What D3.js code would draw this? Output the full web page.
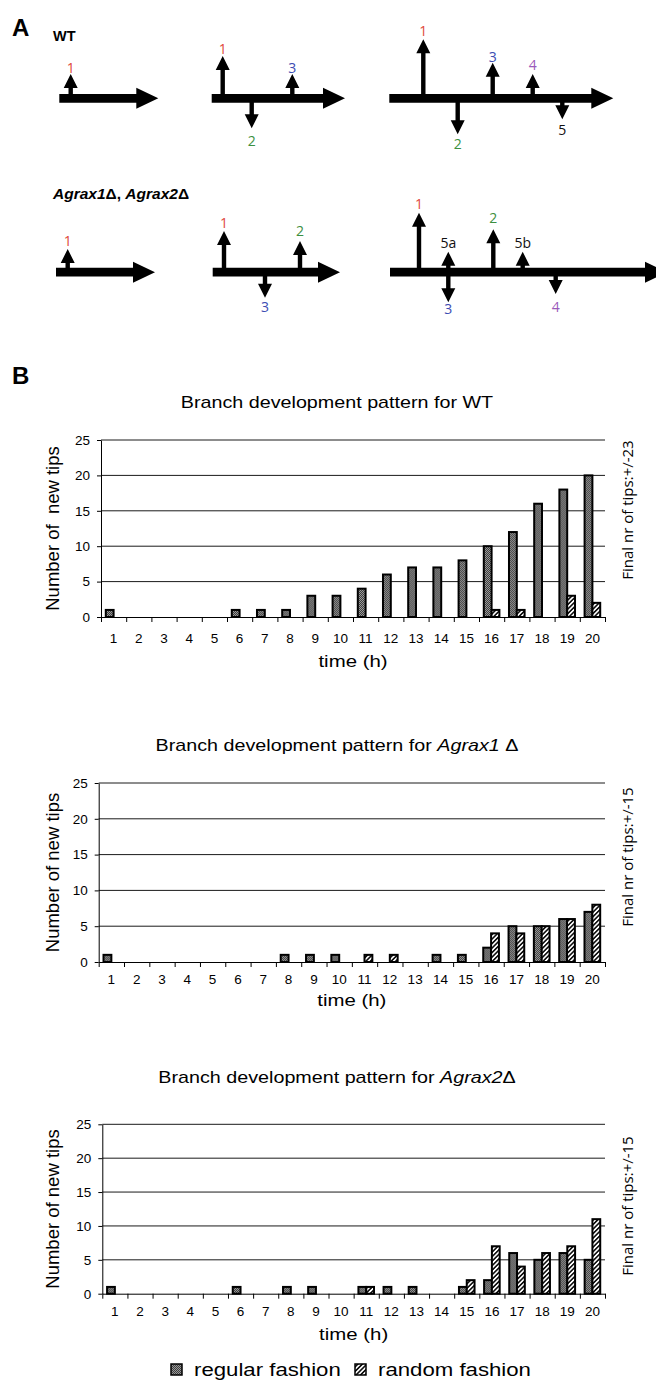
<!DOCTYPE html>
<html><head><meta charset="utf-8">
<script src="https://cdn.jsdelivr.net/npm/d3@7"></script>
<style>body{margin:0;background:#fff} svg{display:block}</style>
</head><body>
<svg id="c" width="656" height="1387"></svg>
<script>
// ---------------- DATA ----------------
const hours = ["1","2","3","4","5","6","7","8","9","10","11","12","13","14","15","16","17","18","19","20"];
const yTicks = [0,5,10,15,20,25];
const seriesNames = ["regular fashion","random fashion"];

const wtRegular = [1,0,0,0,0,1,1,1,3,3,4,6,7,7,8,10,12,16,18,20];
const wtRandom  = [0,0,0,0,0,0,0,0,0,0,0,0,0,0,0,1,1,0,3,2];
const a1Regular = [1,0,0,0,0,0,0,1,1,1,0,0,0,1,1,2,5,5,6,7];
const a1Random  = [0,0,0,0,0,0,0,0,0,0,1,1,0,0,0,4,4,5,6,8];
const a2Regular = [1,0,0,0,0,1,0,1,1,0,1,1,1,0,1,2,6,5,6,5];
const a2Random  = [0,0,0,0,0,0,0,0,0,0,1,0,0,0,2,7,4,6,7,11];

const strainNames = ["WT","Agrax1","Agrax2"];
const finalTips = ["Final nr of tips:+/-23","Final nr of tips:+/-15","Final nr of tips:+/-15"];
const yTitles = ["Number of  new tips","Number of new tips","Number of new tips"];

// ---------------- LAYOUT ----------------
const ARIAL = "Arial, 'Liberation Sans', sans-serif";
const OPEN = "'Open Sans', 'DejaVu Sans', sans-serif";
const svg = d3.select("#c");
const defs = svg.append("defs");

const pReg = defs.append("pattern").attr("id","pReg").attr("width",2).attr("height",2).attr("patternUnits","userSpaceOnUse");
pReg.append("rect").attr("width",2).attr("height",2).attr("fill","#999999");
pReg.append("rect").attr("width",1).attr("height",1).attr("fill","#3c3c3c");
pReg.append("rect").attr("x",1).attr("y",1).attr("width",1).attr("height",1).attr("fill","#3c3c3c");

const pRnd = defs.append("pattern").attr("id","pRnd").attr("width",3.2).attr("height",3.2)
  .attr("patternUnits","userSpaceOnUse").attr("patternTransform","rotate(45)");
pRnd.append("rect").attr("width",3.2).attr("height",3.2).attr("fill","#fff");
pRnd.append("line").attr("x1",1.6).attr("y1",0).attr("x2",1.6).attr("y2",3.2).attr("stroke","#000").attr("stroke-width",1.5);

const fills = {"regular fashion":"url(#pReg)","random fashion":"url(#pRnd)"};

function stext(parent, x, y, sx, str, size, opts = {}) {
  const t = parent.append("text")
    .attr("transform", `translate(${x},${y}) scale(${sx},1)`)
    .attr("font-family", opts.family || ARIAL)
    .attr("font-size", size)
    .attr("font-weight", opts.weight || "normal")
    .attr("font-style", opts.style || "normal")
    .attr("fill", opts.fill || "#000")
    .attr("text-anchor", opts.anchor || "start");
  if (str !== null) t.text(str);
  return t;
}

// ---------------- PANEL A ----------------
const gA = svg.append("g");
stext(gA, 12, 36, 1, "A", 24, {weight:"bold"});
stext(gA, 53, 41, 1, "WT", 14.5, {weight:"bold"});
const mt = stext(gA, 53, 199, 1, null, 15.5, {weight:"bold"});
mt.append("tspan").attr("font-style","italic").text("Agrax1");
mt.append("tspan").text("Δ, ");
mt.append("tspan").attr("font-style","italic").text("Agrax2");
mt.append("tspan").text("Δ");

const RED = "#e0483c", GREEN = "#3c8f40", BLUE = "#3d4db3", PURPLE = "#9a5bbb", BLACK = "#111";
const diagrams = [
  {cy:98.3, x0:59.3, tip:158.3, br:[{x:70.7,t:74,ly:73,l:"1",c:RED}]},
  {cy:98.3, x0:211.7, tip:345, br:[{x:222.7,t:56,ly:54,l:"1",c:RED},{x:251.7,t:128.3,ly:146,l:"2",c:GREEN},{x:292.3,t:74,ly:73,l:"3",c:BLUE}]},
  {cy:98.3, x0:389.3, tip:613.3, br:[{x:423.3,t:39.3,ly:36,l:"1",c:RED},{x:457.7,t:134.3,ly:149,l:"2",c:GREEN},{x:492.7,t:62.7,ly:61.7,l:"3",c:BLUE},{x:532.7,t:74,ly:70,l:"4",c:PURPLE},{x:562.3,t:119.3,ly:135,l:"5",c:BLACK}]},
  {cy:272.2, x0:56, tip:155, br:[{x:67.7,t:249,ly:246,l:"1",c:RED}]},
  {cy:272.2, x0:212.7, tip:340, br:[{x:224,t:231,ly:228,l:"1",c:RED},{x:265,t:297.7,ly:311.7,l:"3",c:BLUE},{x:300,t:241,ly:236,l:"2",c:GREEN}]},
  {cy:272.2, x0:390, tip:667, br:[{x:419,t:212.7,ly:209,l:"1",c:RED},{x:448.3,t:251.7,ly:248,l:"5a",c:BLACK},{x:448.3,t:302.3,ly:314,l:"3",c:BLUE},{x:493.3,t:229.3,ly:223,l:"2",c:GREEN},{x:522.7,t:251.7,ly:248,l:"5b",c:BLACK},{x:555.7,t:294,ly:311.7,l:"4",c:PURPLE}]}
];
diagrams.forEach(d => {
  const ht = 4.4, hh = 10.5, hl = 22, cy = d.cy;
  const p = d3.path();
  p.moveTo(d.x0, cy-ht); p.lineTo(d.tip-hl, cy-ht); p.lineTo(d.tip-hl, cy-hh); p.lineTo(d.tip, cy);
  p.lineTo(d.tip-hl, cy+hh); p.lineTo(d.tip-hl, cy+ht); p.lineTo(d.x0, cy+ht); p.closePath();
  gA.append("path").attr("d", p.toString()).attr("fill","#000");
  d.br.forEach(b => {
    const up = b.t < cy, s = up ? 1 : -1, base = b.t + s*14, w = 2.2, hw = 7;
    const q = d3.path();
    q.moveTo(b.x-w, cy); q.lineTo(b.x-w, base); q.lineTo(b.x-hw, base); q.lineTo(b.x, b.t);
    q.lineTo(b.x+hw, base); q.lineTo(b.x+w, base); q.lineTo(b.x+w, cy); q.closePath();
    gA.append("path").attr("d", q.toString()).attr("fill","#000");
    stext(gA, b.x, b.ly, 1, b.l, 14, {family:OPEN, fill:b.c, anchor:"middle"});
  });
});

// ---------------- PANEL B ----------------
stext(svg, 12, 384, 1, "B", 24, {weight:"bold"});

const layouts = [
  {left:101, right:605, top:440, bottom:617, titleY:408, tickY:643, xTitleY:667, finalY:510},
  {left:98.7, right:605, top:783, bottom:962, titleY:751, tickY:984, xTitleY:1006, finalY:857},
  {left:102.3, right:605, top:1124.3, bottom:1293.7, titleY:1083, tickY:1316, xTitleY:1340, finalY:1206}
];
const chartData = [
  {reg: wtRegular, rnd: wtRandom},
  {reg: a1Regular, rnd: a1Random},
  {reg: a2Regular, rnd: a2Random}
];

layouts.forEach((L, ci) => {
  const g = svg.append("g");
  const x = d3.scaleBand().domain(hours).range([L.left, L.right]).padding(0);
  const xs = d3.scaleBand().domain(seriesNames).range([x.bandwidth()*0.19, x.bandwidth()*0.81]).padding(0);
  const xl = d3.scaleLinear().domain([0, hours.length]).range([L.left, L.right]);
  const y = d3.scaleLinear().domain([0, 25]).range([L.bottom, L.top]);

  g.append("g").selectAll("line").data(yTicks.filter(v => v > 0)).join("line")
    .attr("x1", L.left).attr("x2", L.right).attr("y1", d => y(d)).attr("y2", d => y(d))
    .attr("stroke", "#1a1a1a").attr("stroke-width", 1);

  const rows = hours.map((h, i) => ({h, vals: [
    {s: seriesNames[0], v: chartData[ci].reg[i]},
    {s: seriesNames[1], v: chartData[ci].rnd[i]}]}));
  g.append("g").selectAll("g").data(rows).join("g")
    .attr("transform", d => `translate(${x(d.h)},0)`)
    .selectAll("rect").data(d => d.vals.filter(v => v.v > 0)).join("rect")
    .attr("x", d => xs(d.s)).attr("width", xs.bandwidth())
    .attr("y", d => y(d.v)).attr("height", d => y(0) - y(d.v))
    .attr("fill", d => fills[d.s]).attr("stroke", "#000").attr("stroke-width", 2);

  const ya = g.append("g").attr("transform", `translate(${L.left},0)`)
    .call(d3.axisLeft(y).tickValues(yTicks).tickSize(4).tickSizeOuter(0).tickPadding(7));
  ya.select(".domain").attr("stroke", "#000");
  ya.selectAll(".tick line").attr("stroke", "#000");
  ya.selectAll("text").attr("font-family", ARIAL).attr("font-size", 13.5).attr("fill", "#000");

  const xt = g.append("g").attr("transform", `translate(0,${L.bottom})`)
    .call(d3.axisBottom(xl).tickValues(d3.range(hours.length + 1)).tickFormat("").tickSize(5).tickSizeOuter(0));
  xt.select(".domain").attr("stroke", "#000");
  xt.selectAll(".tick line").attr("stroke", "#000");
  const xa = g.append("g").attr("transform", `translate(0,${L.bottom})`)
    .call(d3.axisBottom(x).tickSize(0));
  xa.select(".domain").remove();
  xa.selectAll("text").attr("font-family", ARIAL).attr("font-size", 13.5).attr("fill", "#000")
    .attr("y", L.tickY - L.bottom).attr("dy", 0);

  const tt = stext(g, 337, L.titleY, 1.16, null, 17, {anchor:"middle"});
  tt.append("tspan").text("Branch development pattern for ");
  if (ci === 0) tt.append("tspan").text(strainNames[0]);
  else {
    tt.append("tspan").attr("font-style","italic").text(strainNames[ci]);
    tt.append("tspan").text(ci === 1 ? " Δ" : "Δ");
  }
  tt.style("white-space","pre");

  stext(g, (L.left + L.right)/2, L.xTitleY, 1.2, "time (h)", 17, {anchor:"middle"});

  g.append("text").attr("transform", `translate(59,${(L.top + L.bottom)/2}) rotate(-90)`)
    .attr("font-family", ARIAL).attr("font-size", 18.5).attr("text-anchor","middle")
    .style("white-space","pre").text(yTitles[ci]);

  g.append("text").attr("transform", `translate(633,${L.finalY}) rotate(-90)`)
    .attr("font-family", OPEN).attr("font-size", 15).attr("text-anchor","middle")
    .text(finalTips[ci]);
});

const lg = svg.append("g");
const legX = d3.scalePoint().domain(seriesNames).range([171, 355]);
seriesNames.forEach(s => {
  lg.append("rect").attr("x", legX(s)).attr("y", 1364).attr("width", 11).attr("height", 11)
    .attr("fill", fills[s]).attr("stroke", "#000").attr("stroke-width", 1.5);
  stext(lg, legX(s) + 23, 1376, 1.2, s, 18.5);
});
</script>
</body></html>
